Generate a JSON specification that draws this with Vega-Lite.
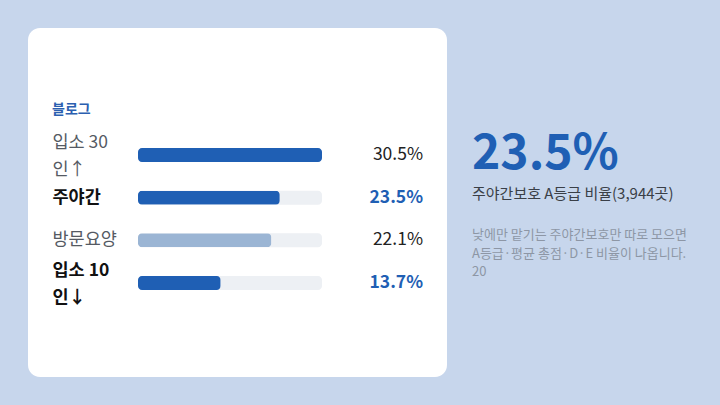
{
  "$schema": "https://vega.github.io/schema/vega-lite/v6.json",
  "background": "#c7d6ec",
  "padding": {"left": 28, "top": 28, "right": 0, "bottom": 28},
  "config": {
    "font": "Noto Sans CJK KR",
    "view": {"stroke": null}
  },
  "datasets": {
    "rows": [
      {"label": "입소 30인↑", "share": 0.305},
      {"label": "주야간", "share": 0.235},
      {"label": "방문요양", "share": 0.221},
      {"label": "입소 10인↓", "share": 0.137}
    ]
  },
  "spacing": 25,
  "hconcat": [
    {
      "width": 419,
      "height": 349,
      "view": {"fill": "#ffffff", "cornerRadius": 12, "stroke": null},
      "title": {
        "text": "블로그",
        "anchor": "start",
        "dx": 24,
        "offset": -96,
        "baseline": "middle",
        "fontSize": 14,
        "fontWeight": "bold",
        "color": "#2b5fb0"
      },
      "data": {"name": "rows"},
      "encoding": {
        "y": {
          "field": "label",
          "type": "nominal",
          "sort": null,
          "scale": {"paddingInner": 0, "paddingOuter": 0, "range": [105.67, 276.33]},
          "axis": {
            "title": null,
            "domain": false,
            "ticks": false,
            "grid": false,
            "labelAlign": "left",
            "labelBaseline": "middle",
            "labelPadding": -24,
            "labelFontSize": 17.5,
            "labelLineHeight": 27,
            "labelLimit": 0,
            "labelExpr": "length(datum.value) > 5 ? [substring(datum.value, 0, 5), substring(datum.value, 5)] : datum.value",
            "labelOffset": {
              "condition": {"test": "length(datum.value) > 5", "value": -12},
              "value": 0
            },
            "labelColor": {
              "condition": {"test": "datum.value === '주야간' || datum.value === '입소 10인↓'", "value": "#111111"},
              "value": "#555a63"
            },
            "labelFontWeight": {
              "condition": {"test": "datum.value === '주야간' || datum.value === '입소 10인↓'", "value": "bold"},
              "value": "normal"
            }
          }
        }
      },
      "layer": [
        {
          "mark": {"type": "bar", "height": 14, "cornerRadius": 4, "color": "#edf0f4"},
          "encoding": {
            "x": {
              "datum": 0,
              "type": "quantitative",
              "scale": {"domain": [0, 0.305], "range": [110, 294], "nice": false, "zero": false},
              "axis": null
            },
            "x2": {"datum": 0.305}
          }
        },
        {
          "mark": {"type": "bar", "height": 14, "cornerRadius": 4},
          "encoding": {
            "x": {"field": "share", "type": "quantitative"},
            "color": {
              "condition": {"test": "datum.label === '방문요양'", "value": "#9bb5d4"},
              "value": "#1f5fb4"
            }
          }
        },
        {
          "transform": [{"filter": "datum.label !== '주야간' && datum.label !== '입소 10인↓'"}],
          "mark": {"type": "text", "align": "right", "baseline": "middle", "dx": -24, "fontSize": 17.5, "color": "#222222"},
          "encoding": {
            "x": {"value": "width"},
            "text": {"field": "share", "type": "quantitative", "format": ".1%"}
          }
        },
        {
          "transform": [{"filter": "datum.label === '주야간' || datum.label === '입소 10인↓'"}],
          "mark": {"type": "text", "align": "right", "baseline": "middle", "dx": -24, "fontSize": 17.5, "fontWeight": "bold", "color": "#1f5fb4"},
          "encoding": {
            "x": {"value": "width"},
            "text": {"field": "share", "type": "quantitative", "format": ".1%"}
          }
        }
      ]
    },
    {
      "width": 248,
      "height": 349,
      "title": {
        "text": "23.5%",
        "subtitle": "주야간보호 A등급 비율(3,944곳)",
        "anchor": "start",
        "offset": -174,
        "fontSize": 48,
        "fontWeight": "bold",
        "color": "#1f5fb4",
        "subtitleFontSize": 15,
        "subtitleColor": "#3a3f47",
        "subtitlePadding": 8
      },
      "data": {
        "values": [
          {"note": "낮에만 맡기는 주야간보호만 따로 모으면\nA등급·평균 총점·D·E 비율이 나옵니다.\n20"}
        ]
      },
      "mark": {
        "type": "text",
        "align": "left",
        "baseline": "top",
        "lineBreak": "\n",
        "fontSize": 13,
        "lineHeight": 18.5,
        "color": "#8d96a5"
      },
      "encoding": {
        "x": {"value": 0},
        "y": {"value": 201},
        "text": {"field": "note", "type": "nominal"}
      }
    }
  ]
}
